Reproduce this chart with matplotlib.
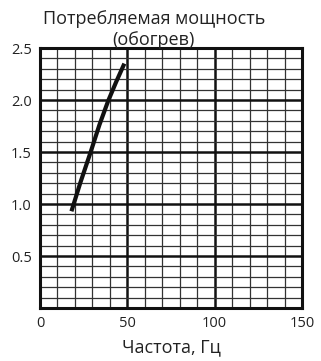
import matplotlib
matplotlib.use("Agg")
import matplotlib.pyplot as plt
from matplotlib.ticker import MultipleLocator

freq = [18, 23, 29, 34, 39, 43.5, 48.3]
power = [0.93, 1.2, 1.5, 1.76, 1.99, 2.17, 2.35]
xticks = [0, 50, 100, 150]
yticks = [0.5, 1.0, 1.5, 2.0, 2.5]
title_lines = ["Потребляемая мощность", "(обогрев)"]
xlabel = "Частота, Гц"

plt.rcParams['font.family'] = ['Open Sans', 'DejaVu Sans']

fig = plt.figure(figsize=(3.21, 3.61), dpi=100)
ax = fig.add_axes([40/321, 1-308/361, 262/321, 260/361])
ax.set_xlim(0, 150)
ax.set_ylim(0, 2.5)

ax.xaxis.set_minor_locator(MultipleLocator(10))
ax.yaxis.set_minor_locator(MultipleLocator(0.1))
ax.set_xticks(xticks)
ax.set_yticks(yticks)
ax.set_yticklabels([f"{v:.1f}" for v in yticks])
ax.grid(which='major', color='#111111', lw=1.8)
ax.grid(which='minor', color='#333333', lw=0.9)
ax.set_axisbelow(True)
ax.tick_params(which='both', length=0, labelsize=10.5, colors='#222222', pad=6)
for s in ax.spines.values():
    s.set_linewidth(2.2)
    s.set_color('#111111')

ax.plot(freq, power, color='#111111', lw=3.0, solid_capstyle='butt')

ax.set_xlabel(xlabel, fontsize=13, color='#222222', labelpad=5)
fig.text(154/321, 1-24/361, title_lines[0], ha='center', va='baseline',
         fontsize=13, color='#222222')
fig.text(153/321, 1-45/361, title_lines[1], ha='center', va='baseline',
         fontsize=13, color='#222222')

fig.savefig("out.png", dpi=100)
